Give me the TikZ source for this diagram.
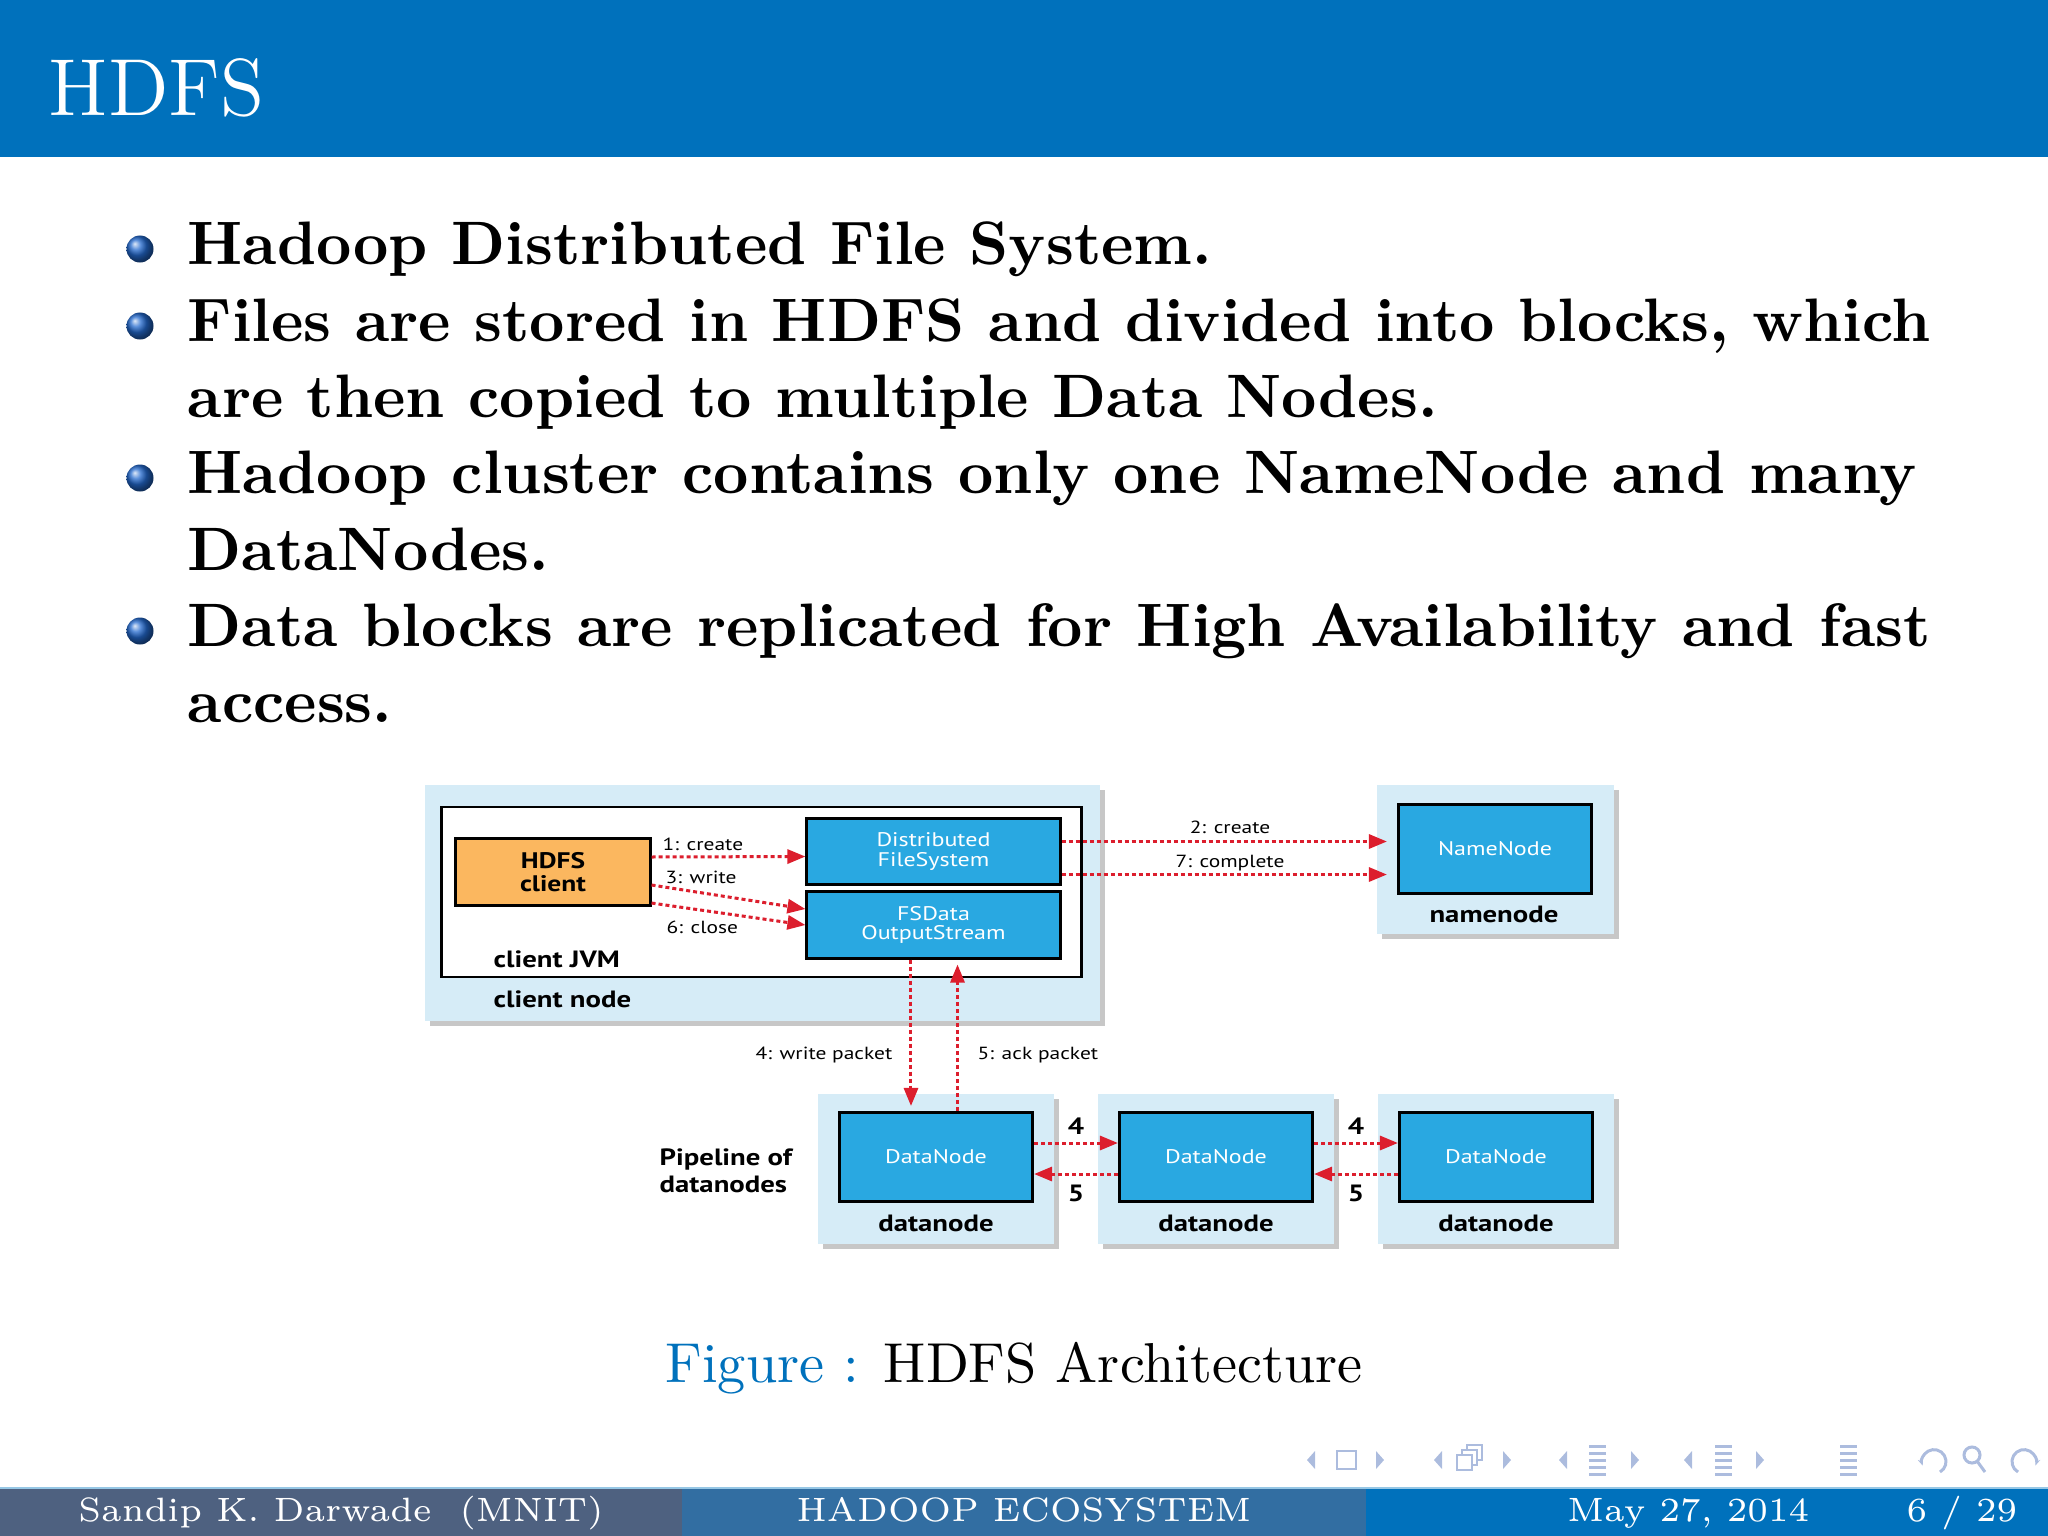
\documentclass[tikz,border=0pt]{standalone}
\usepackage{fontspec}
\usepackage{tikz}
\usetikzlibrary{positioning,arrows.meta,shadows,calc}
\newfontfamily\figfont[FakeStretch=1.22]{PT Sans}
\newfontfamily\titlerm{lmroman12-regular.otf}
\newfontfamily\bodyrm{lmroman10-regular.otf}[BoldFont=lmroman10-bold.otf]
\newfontfamily\footrm{lmroman6-regular.otf}
\definecolor{HeadBlue}{RGB}{0,113,188}
\definecolor{FootDark}{RGB}{78,97,128}
\definecolor{FootMid}{RGB}{50,110,162}
\definecolor{HostBlue}{RGB}{214,236,247}
\definecolor{ProcBlue}{RGB}{41,168,225}
\definecolor{ClientOrange}{RGB}{251,183,95}
\definecolor{MsgRed}{RGB}{220,30,45}
\definecolor{NavBlue}{RGB}{172,188,222}
\definecolor{BallBlue}{RGB}{35,105,205}
\tikzset{
  host/.style={rectangle, fill=HostBlue, inner sep=0pt,
    drop shadow={shadow xshift=0.05cm, shadow yshift=-0.05cm, fill=black, opacity=0.22}},
  jvm/.style={rectangle, draw=black, fill=white, line width=0.025cm, inner sep=0pt},
  proc/.style={rectangle, draw=black, fill=ProcBlue, line width=0.03cm, text=white,
    align=center, inner sep=0pt, font=\figfont\fontsize{5.6}{5.6}\selectfont},
  cli/.style={proc, fill=ClientOrange, text=black, font=\figfont\bfseries\fontsize{6.4}{6.6}\selectfont},
  hostlbl/.style={inner sep=0pt, font=\figfont\bfseries\fontsize{6.7}{7.6}\selectfont},
  msglbl/.style={inner sep=0pt, font=\figfont\fontsize{5}{6}\selectfont},
  msg/.style={-{Triangle[length=0.18cm, width=0.14cm]}, draw=MsgRed, line width=0.03cm,
    dash pattern=on 0.04cm off 0.03cm},
  bul/.style={circle, inner sep=0pt, minimum size=0.27cm, ball color=BallBlue},
  txt/.style={inner sep=0pt, anchor=base west, font=\bodyrm\bfseries\fontsize{17.45}{21.8}\selectfont},
  foot/.style={inner sep=0pt, anchor=base, text=white, font=\footrm\fontsize{9.6}{11}\selectfont},
  nav/.style={fill=NavBlue, draw=none}
}

\begin{document}
\begin{tikzpicture}[x=0.01cm, y=-0.01cm]
  \useasboundingbox (0,0) rectangle (2048,1536);
  % title bar
  \fill[HeadBlue] (0,0) rectangle (2048,157);
  \node[txt, text=white, font=\titlerm\fontsize{23}{28}\selectfont] (title) at (48,115) {HDFS};

  % bullets
  \node[bul] (b1) at (140,249) {};
  \node[txt] (l1) at (187,264) {Hadoop Distributed File System.};
  \node[bul] (b2) at (140,326) {};
  \node[txt] (l2) at (187,341) {\makebox[17.42cm][s]{Files are stored in HDFS and divided into blocks, which}};
  \node[txt] (l3) at (187,417) {are then copied to multiple Data Nodes.};
  \node[bul] (b3) at (140,478) {};
  \node[txt] (l4) at (187,493) {\makebox[17.28cm][s]{Hadoop cluster contains only one NameNode and many}};
  \node[txt] (l5) at (187,570) {DataNodes.};
  \node[bul] (b4) at (140,631) {};
  \node[txt] (l6) at (187,646) {\makebox[17.42cm][s]{Data blocks are replicated for High Availability and fast}};
  \node[txt] (l7) at (187,722) {access.};

  % client node
  \node[host, minimum width=6.75cm, minimum height=2.36cm] (cn) at (762.5,903) {};
  \node[jvm, minimum width=6.4cm, minimum height=1.7cm] (jvm) at (761.5,892) {};
  \node[cli, minimum width=1.94cm, minimum height=0.66cm] (hc) at (553,872) {HDFS\\client};
  \node[proc, minimum width=2.53cm, minimum height=0.65cm] (dfs) at (933.5,851.5) {Distributed\\FileSystem};
  \node[proc, minimum width=2.53cm, minimum height=0.66cm] (fsdos) at (933.5,925) {FSData\\OutputStream};
  \node[hostlbl, anchor=base west] (jvmlbl) at (493,967) {client JVM};
  \node[hostlbl, anchor=base west] (cnlbl) at (493,1007) {client node};

  % namenode
  \node[host, minimum width=2.37cm, minimum height=1.49cm] (nnh) at (1495.5,859.5) {};
  \node[proc, minimum width=1.93cm, minimum height=0.88cm] (nn) at (1495,849) {NameNode};
  \node[hostlbl, anchor=base] (nnlbl) at (1494,922) {namenode};

  % datanodes
  \foreach \i/\x in {1/936, 2/1216, 3/1496} {
    \node[host, minimum width=2.35cm, minimum height=1.49cm] (dnh\i) at (\x,1169) {};
    \node[proc, minimum width=1.93cm, minimum height=0.89cm] (dn\i) at (\x,1157) {DataNode};
    \node[hostlbl, below=0.11cm of dn\i] (dnlbl\i) {datanode};
  }
  \node[hostlbl, align=left, anchor=west] (pipe) at (659,1171) {Pipeline of\\datanodes};

  % client calls
  \draw[msg] ([yshift=0.15cm]hc.east) -- ([yshift=-0.05cm]dfs.west);
  \draw[msg] ([yshift=-0.13cm]hc.east) -- ([yshift=0.16cm]fsdos.west);
  \draw[msg] ([yshift=-0.31cm]hc.east) -- (fsdos.west);
  \node[msglbl, anchor=base west] (m1) at (662,850) {1: create};
  \node[msglbl, anchor=base west] (m3) at (665,883) {3: write};
  \node[msglbl, anchor=base west] (m6) at (666,933) {6: close};

  % to namenode
  \draw[msg, shorten >=0.1cm] ([yshift=0.1cm]dfs.east) coordinate (c2) -- (c2 -| nn.west);
  \draw[msg, shorten >=0.1cm] ([yshift=-0.23cm]dfs.east) coordinate (c7) -- (c7 -| nn.west);
  \node[msglbl, anchor=base] (m2) at (1230,833) {2: create};
  \node[msglbl, anchor=base] (m7) at (1230,867) {7: complete};

  % packets
  \draw[msg, shorten >=0.05cm] ([xshift=-0.225cm]fsdos.south) coordinate (c4) -- (c4 |- dn1.north);
  \path ([xshift=0.24cm]fsdos.south) coordinate (c5);
  \draw[msg, shorten >=0.05cm] (c5 |- dn1.north) -- (c5);
  \node[msglbl, anchor=base east] (m4) at (893,1059) {4: write packet};
  \node[msglbl, anchor=base west] (m5) at (977,1059) {5: ack packet};

  % pipeline
  \foreach \a/\b in {1/2, 2/3} {
    \draw[msg] ([yshift=0.14cm]dn\a.east) -- node[hostlbl, above=0.066cm] (f\a) {4} ([yshift=0.14cm]dn\b.west);
    \draw[msg] ([yshift=-0.17cm]dn\b.west) -- node[hostlbl, below=0.09cm] (k\a) {5} ([yshift=-0.17cm]dn\a.east);
  }

  % caption
  \node[inner sep=0pt, anchor=base, font=\bodyrm\fontsize{16}{19}\selectfont] (cap) at (1014,1382)
    {\textcolor{HeadBlue}{Figure :} HDFS Architecture};

  % navigation symbols
  \foreach \x in {1307,1434,1559,1684} \fill[nav] (\x,1460) -- (\x+8,1451) -- (\x+8,1469) -- cycle;
  \foreach \x in {1376,1503,1631,1756} \fill[nav] (\x+8,1460) -- (\x,1451) -- (\x,1469) -- cycle;
  \draw[NavBlue, line width=0.025cm] (1337,1451) rectangle (1356,1469);
  \draw[NavBlue, line width=0.025cm, fill=white] (1467,1445) rectangle (1482,1460);
  \draw[NavBlue, line width=0.025cm, fill=white] (1462,1450) rectangle (1477,1465);
  \draw[NavBlue, line width=0.025cm, fill=white] (1457,1455) rectangle (1472,1470);
  \foreach \x in {1589,1715,1840} {
    \foreach \yy in {1445,1452,1459,1466,1473} \fill[nav] (\x,\yy) rectangle (\x+17,\yy+3);
  }
  \draw[NavBlue, line width=0.03cm, -{Stealth[length=0.07cm]}] (1940,1472) arc[start angle=-60, end angle=200, radius=0.12cm];
  \draw[NavBlue, line width=0.03cm] (1972,1455) circle[radius=0.08cm] (1977,1461) -- (1985,1472);
  \draw[NavBlue, line width=0.03cm, -{Stealth[length=0.07cm]}] (2018,1472) arc[start angle=240, end angle=-20, radius=0.12cm];

  % footline
  \fill[FootDark] (0,1488) rectangle (682,1536);
  \fill[FootMid] (682,1488) rectangle (1366,1536);
  \fill[HeadBlue] (1366,1488) rectangle (2048,1536);
  \fill[HostBlue!70!HeadBlue] (0,1487) rectangle (2048,1489);
  \node[foot] (fa) at (341,1521) {Sandip K. Darwade\ \ (MNIT)};
  \node[foot] (ft) at (1024,1521) {HADOOP ECOSYSTEM};
  \node[foot, anchor=base east] (fd) at (1810,1521) {May 27, 2014};
  \node[foot, anchor=base east] (fp) at (2018,1521) {6 / 29};
\end{tikzpicture}
\end{document}
